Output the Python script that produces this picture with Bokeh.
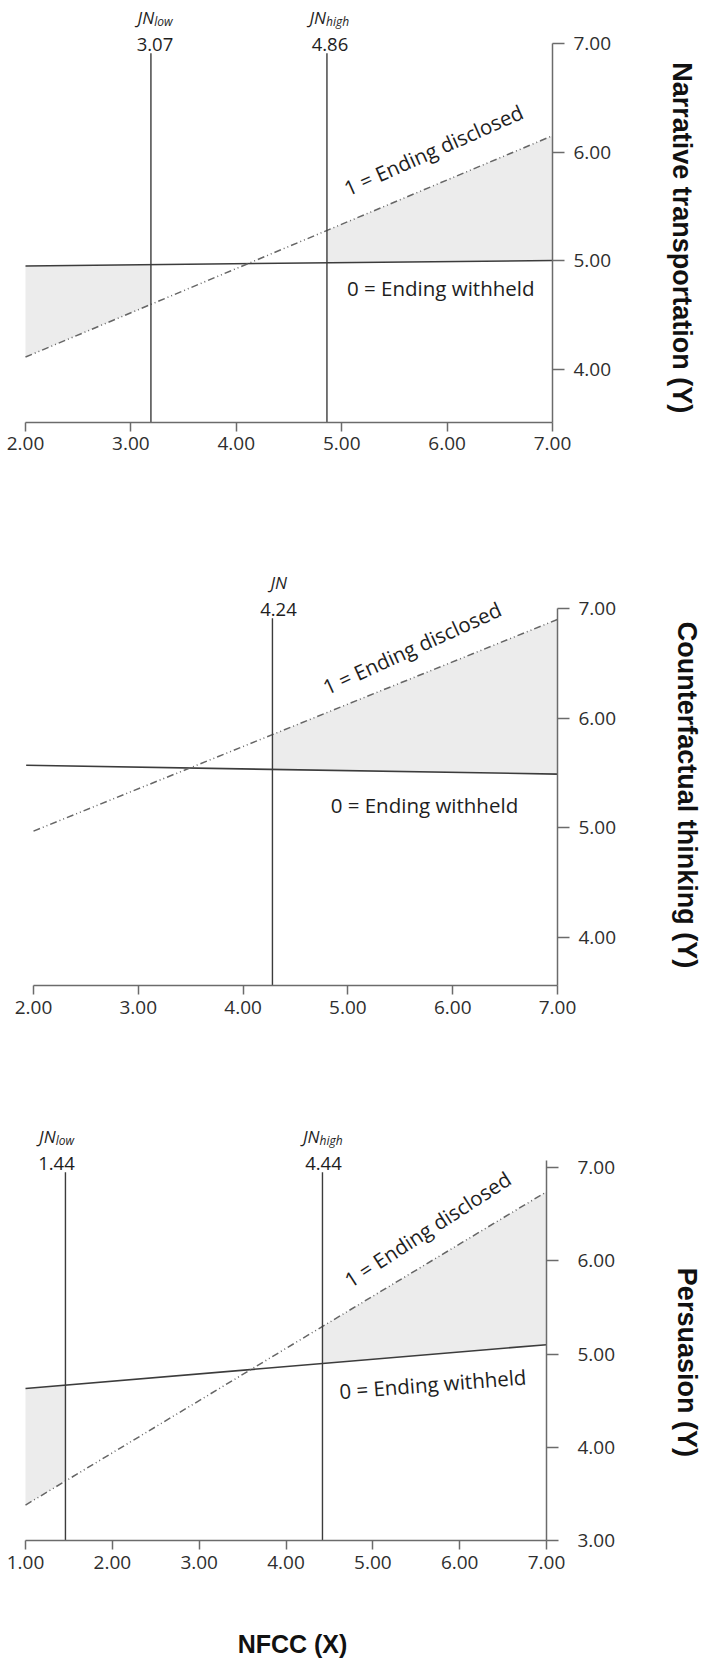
import math
import numpy as np
from bokeh.plotting import figure
from bokeh.models import (LinearAxis, FixedTicker, PrintfTickFormatter,
                          ColumnDataSource, Range1d)
from bokeh.layouts import column
from bokeh.embed import file_html
from bokeh.resources import INLINE
from bokeh.core.properties import value

# ---------------- data ----------------
# Panel 1 : Narrative transportation
nt_withheld_x = [2.0, 7.0]
nt_withheld_y = [4.95, 5.00]
nt_disclosed_x = [2.0, 7.0]
nt_disclosed_y = [4.11, 6.15]
nt_jn_x = [3.19, 4.86]
nt_jn_values = ["3.07", "4.86"]
nt_jn_subs = ["low", "high"]
nt_xticks = [2.0, 3.0, 4.0, 5.0, 6.0, 7.0]
nt_yticks = [4.0, 5.0, 6.0, 7.0]
nt_ylabel = "Narrative transportation (Y)"

# Panel 2 : Counterfactual thinking
ct_withheld_x = [1.93, 7.0]
ct_withheld_y = [5.57, 5.49]
ct_disclosed_x = [2.0, 7.0]
ct_disclosed_y = [4.97, 6.90]
ct_jn_x = [4.28]
ct_jn_values = ["4.24"]
ct_jn_subs = [""]
ct_xticks = [2.0, 3.0, 4.0, 5.0, 6.0, 7.0]
ct_yticks = [4.0, 5.0, 6.0, 7.0]
ct_ylabel = "Counterfactual thinking (Y)"

# Panel 3 : Persuasion
pe_withheld_x = [1.0, 7.0]
pe_withheld_y = [4.63, 5.10]
pe_disclosed_x = [1.0, 7.0]
pe_disclosed_y = [3.38, 6.74]
pe_jn_x = [1.46, 4.42]
pe_jn_values = ["1.44", "4.44"]
pe_jn_subs = ["low", "high"]
pe_xticks = [1.0, 2.0, 3.0, 4.0, 5.0, 6.0, 7.0]
pe_yticks = [3.0, 4.0, 5.0, 6.0, 7.0]
pe_ylabel = "Persuasion (Y)"

x_title = "NFCC (X)"
disclosed_text = "1 = Ending disclosed"
withheld_text = "0 = Ending withheld"

# ---------------- styling / layout ----------------
FIG_W = 706
AXIS_COLOR = "#6b6b6b"
LINE_COLOR = "#3c3c3c"
DASH_COLOR = "#666666"
FILL_COLOR = "#ececec"
TEXT_COLOR = "#1e1e1e"
TICK_TEXT = "#2e2e2e"
SANS = "Open Sans"
BOLD = "Liberation Sans"
NOTE_SIZE = "20.5px"


def span(a, b, size):
    # a, b: (data value, pixel from left/top); returns (min, max) of range
    scale = (b[1] - a[1]) / (b[0] - a[0])
    v0 = a[0] - a[1] / scale
    v1 = v0 + size / scale
    return (min(v0, v1), max(v0, v1))


def style_axis(ax, tick_out, standoff):
    ax.axis_line_color = AXIS_COLOR
    ax.axis_line_width = 1.5
    ax.major_tick_line_color = AXIS_COLOR
    ax.major_tick_line_width = 1.5
    ax.major_tick_out = tick_out
    ax.major_tick_in = 0
    ax.minor_tick_out = 0
    ax.minor_tick_in = 0
    ax.major_label_text_font = SANS
    ax.major_label_text_font_size = "19px"
    ax.major_label_text_color = TICK_TEXT
    ax.major_label_standoff = standoff


def make_panel(cfg):
    xr = span(cfg["xa"], cfg["xb"], FIG_W)
    yr = span(cfg["ya"], cfg["yb"], cfg["h"])
    p = figure(width=FIG_W, height=cfg["h"], x_range=Range1d(*xr),
               y_range=Range1d(*yr), output_backend="svg",
               toolbar_location=None, tools="", title=None,
               x_axis_location=None, y_axis_location=None, min_border=0,
               outline_line_color=None, background_fill_color="white",
               border_fill_color="white")
    p.xgrid.visible = False
    p.ygrid.visible = False

    wx, wy = cfg["wx"], cfg["wy"]
    dx_, dy_ = cfg["dx"], cfg["dy"]
    jn = cfg["jn_x"]
    xt, yt = cfg["xticks"], cfg["yticks"]

    # shaded regions of significance
    if len(jn) == 2:
        regions = [(xt[0], jn[0]), (jn[1], xt[-1])]
    else:
        regions = [(jn[0], xt[-1])]
    for a, b in regions:
        xs = [a, b]
        p.varea(x=xs, y1=np.interp(xs, wx, wy), y2=np.interp(xs, dx_, dy_),
                fill_color=FILL_COLOR, fill_alpha=1.0)

    # lines
    p.line(wx, wy, line_color=LINE_COLOR, line_width=1.6)
    p.line(dx_, dy_, line_color=DASH_COLOR, line_width=1.5,
           line_dash="7 3 1 3 1 3")
    n = len(jn)
    p.segment(x0=jn, y0=[cfg["y_floor"]] * n, x1=jn, y1=[cfg["jn_top"]] * n,
              line_color=LINE_COLOR, line_width=1.4)

    # axes
    xaxis = LinearAxis(fixed_location=cfg["y_floor"], bounds=(xt[0], xt[-1]),
                       ticker=FixedTicker(ticks=xt),
                       formatter=PrintfTickFormatter(format="%.2f"))
    style_axis(xaxis, 9, 6)
    p.add_layout(xaxis, "below")
    yaxis = LinearAxis(fixed_location=xt[-1],
                       bounds=(cfg["y_floor"], cfg["y_top"]),
                       ticker=FixedTicker(ticks=yt),
                       formatter=PrintfTickFormatter(format="%.2f"))
    style_axis(yaxis, 12, cfg["ystandoff"])
    p.add_layout(yaxis, "right")

    # Johnson-Neyman labels
    subs = cfg["jn_subs"]
    offs = cfg["jn_dx"]
    top = [cfg["jn_top"]] * n
    p.text(x="x", y="y", text="t", x_offset="o",
           source=ColumnDataSource(dict(x=jn, y=top, t=cfg["jn_values"], o=offs)),
           y_offset=-9, text_align="center", text_baseline="alphabetic",
           text_font=value(SANS), text_font_size="18.5px", text_color=TEXT_COLOR)
    split = [o + (17 - 6.2 * len(s)) / 2 for o, s in zip(offs, subs)]
    p.text(x="x", y="y", text="t", x_offset="o",
           source=ColumnDataSource(dict(x=jn, y=top, t=["JN"] * n, o=split)),
           y_offset=-36, text_align="right", text_baseline="alphabetic",
           text_font=value(SANS), text_font_style="italic",
           text_font_size="17px", text_color=TEXT_COLOR)
    p.text(x="x", y="y", text="t", x_offset="o",
           source=ColumnDataSource(dict(x=jn, y=top, t=subs, o=split)),
           y_offset=-32, text_align="left", text_baseline="alphabetic",
           text_font=value(SANS), text_font_style="italic",
           text_font_size="12px", text_color=TEXT_COLOR)

    # line labels
    lx, ly, la = cfg["dis_pos"]
    p.text(x=[lx], y=[ly], text=[disclosed_text], angle=math.radians(la),
           text_align="center", text_baseline="middle", text_font=value(SANS),
           text_font_size=NOTE_SIZE, text_color=TEXT_COLOR)
    lx, ly, la = cfg["wit_pos"]
    p.text(x=[lx], y=[ly], text=[withheld_text], angle=math.radians(la),
           text_align="center", text_baseline="middle", text_font=value(SANS),
           text_font_size=NOTE_SIZE, text_color=TEXT_COLOR)

    # y title (reads top to bottom)
    tx, ty = cfg["title_pos"]
    p.text(x=[tx], y=[ty], text=[cfg["ylabel"]], angle=-math.pi / 2,
           text_align="center", text_baseline="middle", text_font=value(BOLD),
           text_font_style="bold", text_font_size="27px", text_color="#111111")
    return p


p1 = make_panel(dict(
    h=512, xa=(2.0, 25), xb=(7.0, 552), ya=(7.0, 43), yb=(5.0, 260),
    wx=nt_withheld_x, wy=nt_withheld_y, dx=nt_disclosed_x, dy=nt_disclosed_y,
    jn_x=nt_jn_x, jn_values=nt_jn_values, jn_subs=nt_jn_subs, jn_dx=[4, 3],
    xticks=nt_xticks, yticks=nt_yticks, y_floor=3.51, y_top=7.0, jn_top=6.91,
    ystandoff=9, dis_pos=(5.87, 6.02, 24), wit_pos=(5.94, 4.75, 0),
    title_pos=(8.23, 5.21), ylabel=nt_ylabel))

p2 = make_panel(dict(
    h=560, xa=(2.0, 33), xb=(7.0, 557), ya=(7.0, 96), yb=(4.0, 425),
    wx=ct_withheld_x, wy=ct_withheld_y, dx=ct_disclosed_x, dy=ct_disclosed_y,
    jn_x=ct_jn_x, jn_values=ct_jn_values, jn_subs=ct_jn_subs, jn_dx=[6],
    xticks=ct_xticks, yticks=ct_yticks, y_floor=3.56, y_top=7.0, jn_top=6.91,
    ystandoff=9, dis_pos=(5.61, 6.64, 24.5), wit_pos=(5.73, 5.21, 0),
    title_pos=(8.24, 5.30), ylabel=ct_ylabel))

p3 = make_panel(dict(
    h=586, xa=(1.0, 25), xb=(7.0, 546), ya=(7.0, 95), yb=(3.0, 468),
    wx=pe_withheld_x, wy=pe_withheld_y, dx=pe_disclosed_x, dy=pe_disclosed_y,
    jn_x=pe_jn_x, jn_values=pe_jn_values, jn_subs=pe_jn_subs, jn_dx=[-9, 1],
    xticks=pe_xticks, yticks=pe_yticks, y_floor=3.0, y_top=7.07, jn_top=6.95,
    ystandoff=19, dis_pos=(5.63, 6.34, 33), wit_pos=(5.69, 4.68, 4.5),
    title_pos=(8.62, 4.91), ylabel=pe_ylabel))
p3.text(x=[4.075], y=[1.895], text=[x_title], text_align="center",
        text_baseline="middle", text_font=value(BOLD), text_font_style="bold",
        text_font_size="25px", text_color="#111111")

layout = column(p1, p2, p3, spacing=0)
open("out.html", "w").write(file_html(layout, INLINE))
